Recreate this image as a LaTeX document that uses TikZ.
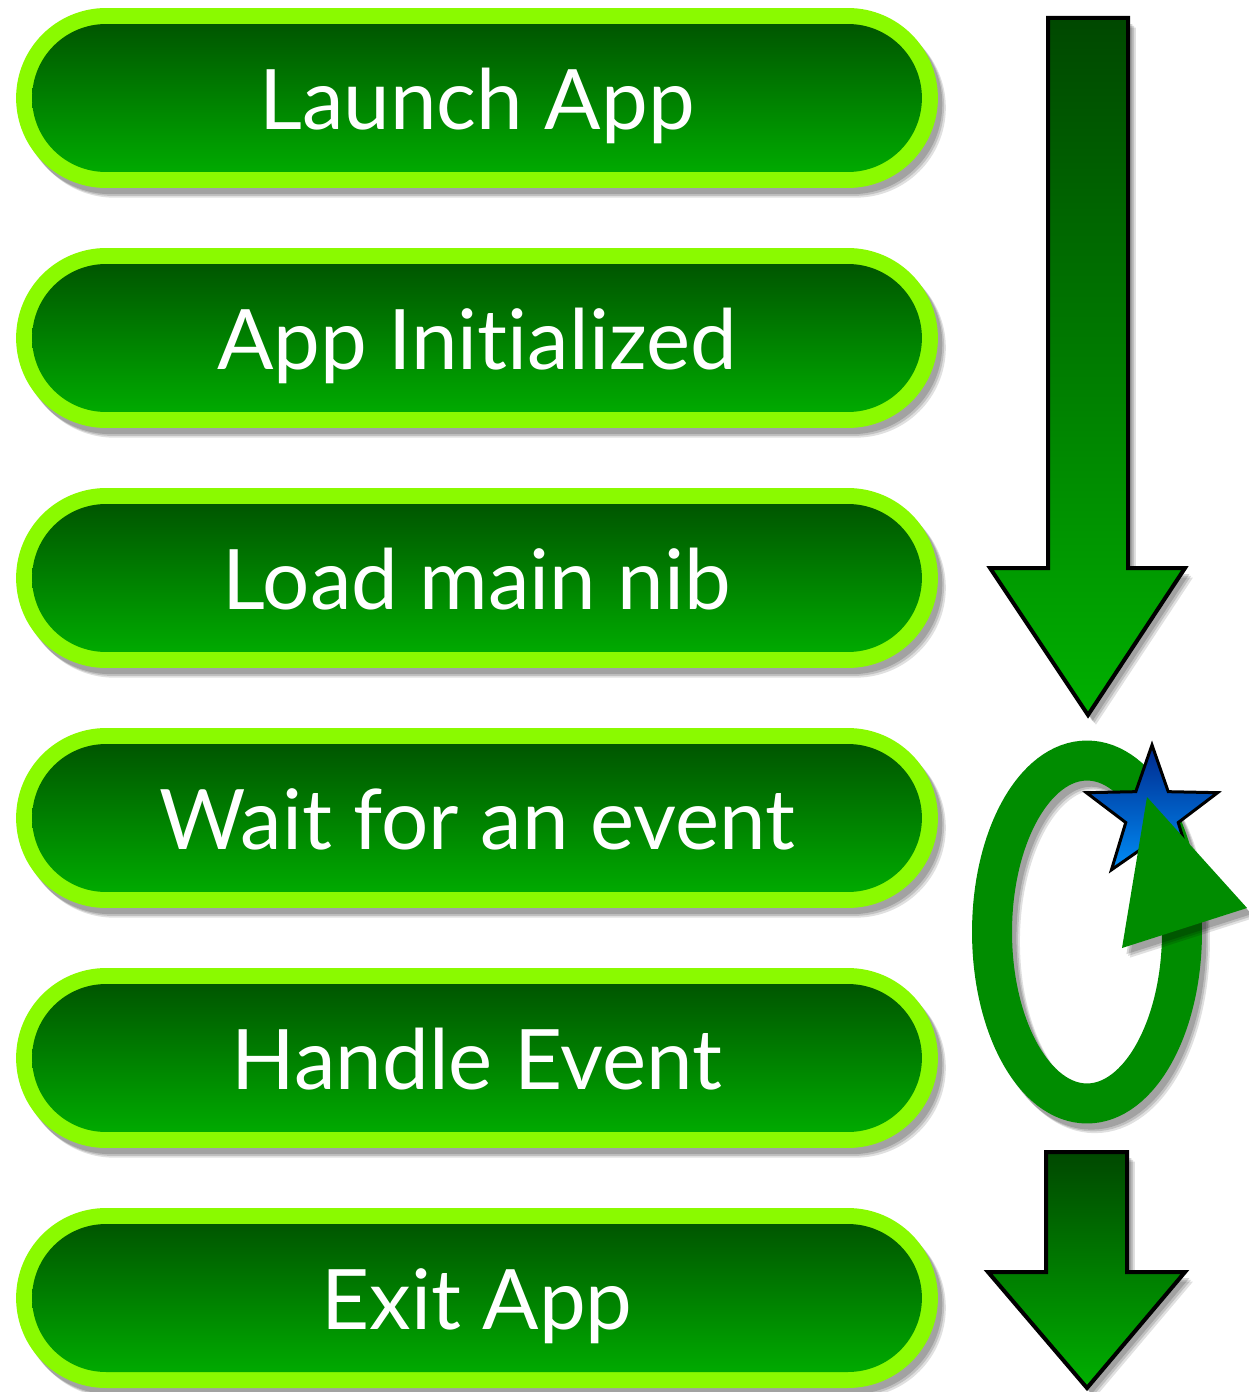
\documentclass[tikz,border=0pt]{standalone}
\usepackage{fontspec}
\setmainfont{Lato}[Ligatures={NoCommon}]
\usetikzlibrary{shapes.misc,shapes.geometric,shadows}
\definecolor{lime}{RGB}{138,250,0}
\definecolor{pilltop}{RGB}{0,86,0}
\definecolor{pillbot}{RGB}{0,170,0}
\definecolor{arrtop}{RGB}{0,72,0}
\definecolor{arrbot}{RGB}{0,176,0}
\definecolor{loopgreen}{RGB}{0,140,0}
\definecolor{startop}{RGB}{0,40,140}
\definecolor{starbot}{RGB}{0,140,245}
\begin{document}
\begin{tikzpicture}[x=0.02cm,y=-0.02cm,
  softshadow/.style={
    drop shadow={shadow xshift=2.5pt, shadow yshift=-3.5pt, opacity=0.16, fill=black},
    drop shadow={shadow xshift=3.5pt, shadow yshift=-4.5pt, opacity=0.14, fill=black},
    drop shadow={shadow xshift=4.5pt, shadow yshift=-5.5pt, opacity=0.12, fill=black}},
  ringshadow/.style={
    preaction={draw=black, line width=0.8cm, draw opacity=0.16, transform canvas={shift={(2.5pt,-3.5pt)}}},
    preaction={draw=black, line width=0.8cm, draw opacity=0.14, transform canvas={shift={(3.5pt,-4.5pt)}}},
    preaction={draw=black, line width=0.8cm, draw opacity=0.12, transform canvas={shift={(4.5pt,-5.5pt)}}}},
  pillouter/.style={rounded rectangle, fill=lime, minimum width=18.44cm, minimum height=3.6cm, inner sep=0pt, softshadow},
  pillinner/.style={rounded rectangle, top color=pilltop, bottom color=pillbot, minimum width=17.8cm, minimum height=2.96cm, inner sep=0pt, text=white, font=\fontsize{47.5}{58}\selectfont, text height=36pt, text depth=0pt},
  bigarrow/.style={softshadow, top color=arrtop, bottom color=arrbot, draw=black, line width=0.08cm, line join=miter},
  ]
\useasboundingbox (0,0) rectangle (1248,1392);

% pills
\node[pillouter] (launchbg) at (477,98) {};
\node[pillinner] (launch) at (477,98) {Launch App};
\node[pillouter] (initbg) at (477,338) {};
\node[pillinner] (init) at (477,338) {App Initialized};
\node[pillouter] (loadbg) at (477,578) {};
\node[pillinner] (load) at (477,578) {Load main nib};
\node[pillouter] (waitbg) at (477,818) {};
\node[pillinner] (wait) at (477,818) {Wait for an event};
\node[pillouter] (handlebg) at (477,1058) {};
\node[pillinner] (handle) at (477,1058) {Handle Event};
\node[pillouter] (exitbg) at (477,1298) {};
\node[pillinner] (exit) at (477,1298) {Exit App};

% big down arrow
\path[bigarrow] (1048,18) -- (1128,18) -- (1128,568) -- (1185,568) -- (1088,715) -- (990,568) -- (1048,568) -- cycle;

% loop
\path[ringshadow, draw=loopgreen, line width=0.8cm] (1087,932) ellipse [x radius=1.9cm, y radius=3.43cm];
\node[star, star points=5, star point ratio=2.5, minimum size=2.76cm, inner sep=0pt, top color=startop, bottom color=starbot, draw=black, line width=0.06cm] (star) at (1152,814) {};
\path[softshadow, fill=loopgreen] (1122,948) -- (1247,908) -- (1147,797) -- cycle;

% small down arrow
\path[bigarrow] (1046,1152) -- (1127,1152) -- (1127,1272) -- (1185,1272) -- (1087,1388) -- (988,1272) -- (1046,1272) -- cycle;
\end{tikzpicture}
\end{document}
